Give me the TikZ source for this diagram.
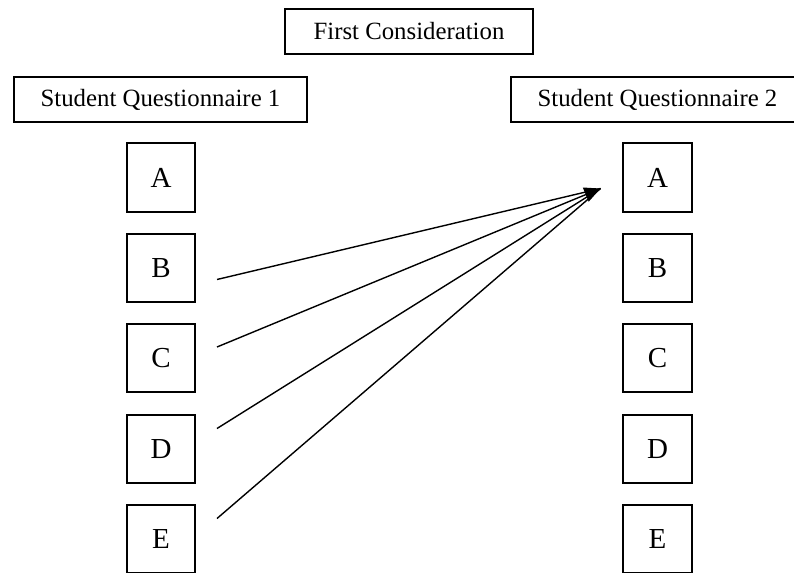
\documentclass[tikz,border=0pt]{standalone}
\usepackage{fontspec}
\setmainfont{Liberation Serif}
\usetikzlibrary{arrows.meta}
\tikzset{
  headbox/.style={
    draw,
    line width=0.8pt,
    minimum height=22.5pt,
    inner sep=0pt,
    font=\fontsize{12.4}{15}\selectfont
  },
  letterbox/.style={
    draw,
    line width=0.8pt,
    minimum width=34.25pt,
    minimum height=34.25pt,
    inner sep=0pt,
    font=\fontsize{14.5}{17}\selectfont
  },
  linkline/.style={
    line width=0.7pt
  }
}

\begin{document}
\begin{tikzpicture}[x=0.5pt,y=-0.5pt]
  \useasboundingbox (0,0) rectangle (794,573);
  \node[headbox,minimum width=124pt] (title) at (409,31.5) {First Consideration};
  \node[headbox,minimum width=146.5pt] (sqone) at (160.5,99.5) {Student Questionnaire 1};
  \node[headbox,minimum width=146.5pt] (sqtwo) at (657.5,99.5) {Student Questionnaire 2};
  \foreach \l/\y in {A/177.5,B/268,C/358,D/449,E/539}{
    \node[letterbox] (left\l) at (161,\y) {\l};
    \node[letterbox] (right\l) at (657.5,\y) {\l};
  }
  \coordinate (tip) at (600.5,188.5);
  \coordinate (startB) at (217,279.5);
  \coordinate (startC) at (217,347);
  \coordinate (startD) at (217,428.5);
  \coordinate (startE) at (217,518.5);
  \foreach \s in {B,D,E}{\draw[linkline] (start\s) -- (tip);}
  \draw[linkline,-{Triangle[length=8pt,width=7.5pt]}] (startC) -- (tip);
\end{tikzpicture}
\end{document}
